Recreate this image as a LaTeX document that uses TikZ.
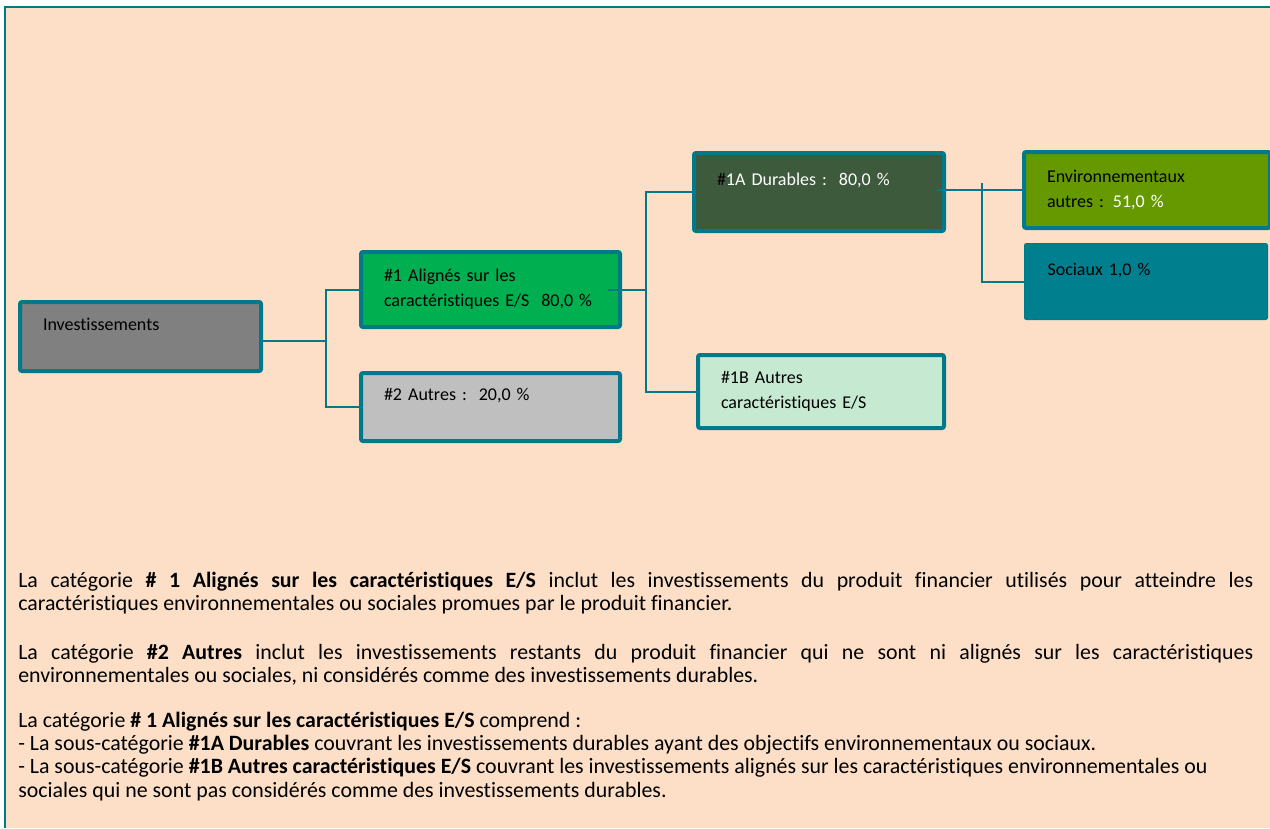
\documentclass[tikz,border=0pt]{standalone}
\usepackage{fontspec}
\setmainfont{Carlito}[Ligatures=NoCommon]
\definecolor{fond}{HTML}{FDDFC7}
\definecolor{sarcelle}{HTML}{007A8A}
\definecolor{gris}{HTML}{808080}
\definecolor{grisclair}{HTML}{BFBFBF}
\definecolor{vert}{HTML}{00B050}
\definecolor{vertfonce}{HTML}{3D5A3C}
\definecolor{olive}{HTML}{669900}
\definecolor{bleuvert}{HTML}{00808F}
\definecolor{vertpale}{HTML}{C6E9D2}
\begin{document}
\begin{tikzpicture}[x=0.75pt,y=-0.75pt,
bloc/.style={draw=sarcelle, line width=3pt, rounded corners=1.5pt, anchor=north west,
  align=left, inner xsep=17.25pt, inner ysep=0pt, font=\fontsize{13.5pt}{18.75pt}\selectfont},
lien/.style={draw=sarcelle, line width=1.5pt},
texte/.style={anchor=base west, inner sep=0pt, text width=926.25pt, align=justify,
  font=\fontsize{16.4pt}{17.6pt}\selectfont}
]
\useasboundingbox (0,0) rectangle (1270,828);
\fill[white] (0,0) rectangle (1270,828);
\fill[fond] (5,7) rectangle (1270,828);
\draw[sarcelle, line width=1.5pt] (5,828) -- (5,7) -- (1270,7);
% les blocs
\node[bloc, fill=gris, minimum height=51.75pt, text width=146.25pt] (inv) at (18,300) {Investissements\\\mbox{}};
\node[bloc, fill=vert, minimum height=56.25pt, text width=159.75pt] (n1) at (359,250) {\#1 Alignés sur les\\caractéristiques E/S~~80,0~\%};
\node[bloc, fill=grisclair, minimum height=51pt, text width=159.75pt] (n2) at (359,371) {\#2 Autres :~~20,0~\%\\\mbox{}};
\node[bloc, fill=vertfonce, text=white, minimum height=58.5pt, text width=153pt] (n1a) at (692,151) {{\color{black}\#}1A Durables :~~80,0~\%\\\mbox{}};
\node[bloc, fill=olive, minimum height=57pt, text width=150pt] (env) at (1022,150) {Environnementaux\\autres : {\color{white}51,0~\%}};
\node[bloc, fill=bleuvert, line width=0.75pt, minimum height=57pt, text width=147.75pt] (soc) at (1024,243) {Sociaux 1,0~\%\\\mbox{}};
\node[bloc, fill=vertpale, minimum height=54.75pt, text width=150pt] (n1b) at (696,353) {\#1B Autres\\caractéristiques E/S};
% les liens
\coordinate (b1) at (326,341);
\draw[lien] (inv.east |- b1) -- (b1);
\draw[lien] (n1.west) -| (b1);
\draw[lien] (n2.west) -| (b1);
\coordinate (s1) at (608,290);
\coordinate (b2) at (646,290);
\draw[lien] (s1) -- (b2);
\draw[lien] (n1a.west) -| (b2);
\draw[lien] (n1b.west) -| (b2);
\coordinate (s2) at (937,188);
\coordinate (b3) at (982,183);
\draw[lien] (s2 |- env.west) -- (env.west);
\draw[lien] (soc.west) -| (b3);
% le texte
\node[texte] (p1) at (18,587) {La catégorie \textbf{\# 1 Alignés sur les caractéristiques E/S} inclut les investissements du produit financier utilisés pour atteindre les\linebreak caractéristiques environnementales ou sociales promues par le produit financier.};
\node[texte] (p2) at (18,659) {La catégorie \textbf{\#2 Autres} inclut les investissements restants du produit financier qui ne sont ni alignés sur les caractéristiques\linebreak environnementales ou sociales, ni considérés comme des investissements durables.};
\node[texte] (p3) at (18,727) {La catégorie \textbf{\# 1 Alignés sur les caractéristiques E/S} comprend :\\
- La sous-catégorie \textbf{\#1A Durables} couvrant les investissements durables ayant des objectifs environnementaux ou sociaux.\\
- La sous-catégorie \textbf{\#1B Autres caractéristiques E/S} couvrant les investissements alignés sur les caractéristiques environnementales ou\\
sociales qui ne sont pas considérés comme des investissements durables.};
\end{tikzpicture}
\end{document}
